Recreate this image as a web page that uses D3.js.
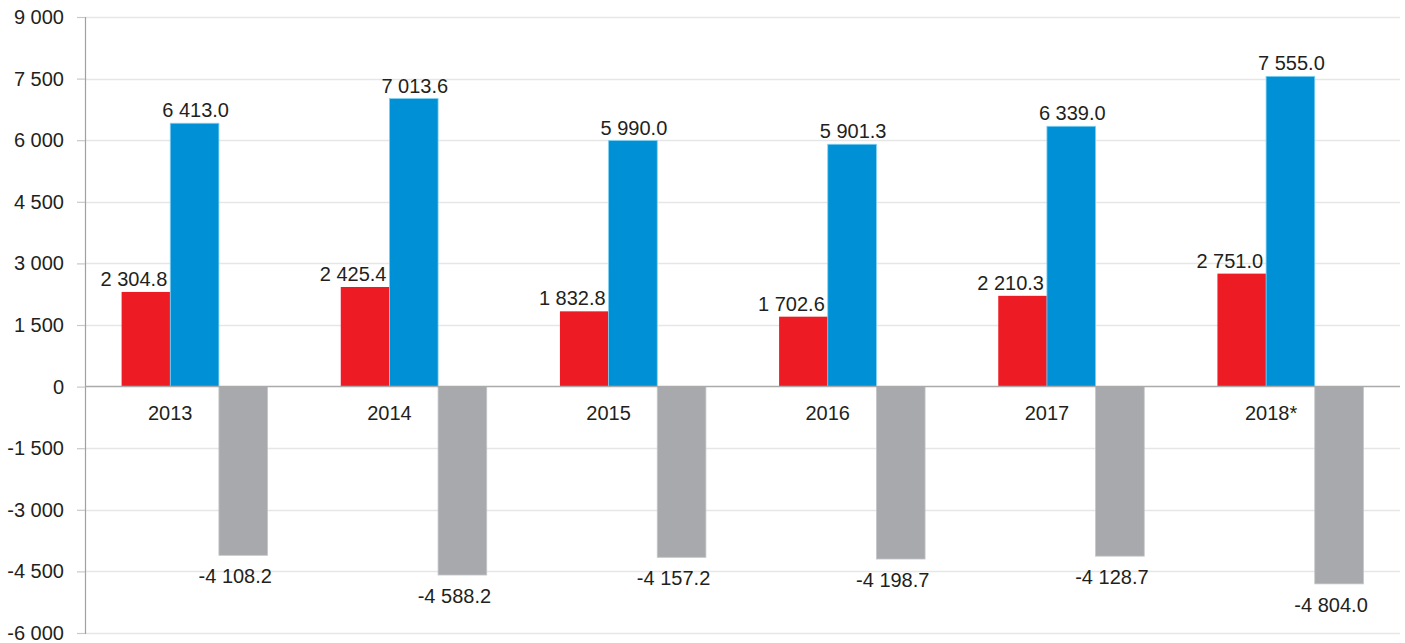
<!DOCTYPE html>
<html lang="en">
<head>
    <meta charset="UTF-8">
    <title>Bar chart 2013-2018</title>
    <script src="https://d3js.org/d3.v7.min.js"></script>
    <style>
        body {
            margin: 0;
            background: #fff;
            font-family: "Liberation Sans", Arial, sans-serif;
        }
        .axis text {
            font-family: "Liberation Sans", Arial, sans-serif;
            font-size: 20px;
            fill: #231f20;
        }
        .value-label, .cat-label {
            font-size: 20px;
            fill: #231f20;
        }
    </style>
</head>
<body>
    <svg width="1405" height="643"></svg>
    <script>
        const years = ["2013", "2014", "2015", "2016", "2017", "2018*"];
        const redValues = [2304.8, 2425.4, 1832.8, 1702.6, 2210.3, 2751.0];
        const blueValues = [6413.0, 7013.6, 5990.0, 5901.3, 6339.0, 7555.0];
        const grayValues = [-4108.2, -4588.2, -4157.2, -4198.7, -4128.7, -4804.0];
        const yTicks = [-6000, -4500, -3000, -1500, 0, 1500, 3000, 4500, 6000, 7500, 9000];

        const series = [
            { key: "red", values: redValues, color: "#ed1c24", stroke: "none", labelShift: -12 },
            { key: "blue", values: blueValues, color: "#0090d5", stroke: "#7fd0f2", labelShift: 1 },
            { key: "gray", values: grayValues, color: "#a7a9ac", stroke: "#c4c5c7", labelShift: -8 }
        ];

        const svg = d3.select("svg");
        const margin = { top: 17, right: 5, bottom: 10, left: 85 };
        const width = 1405, height = 643;

        const locale = d3.formatLocale({ decimal: ".", thousands: " ", grouping: [3], currency: ["", ""], minus: "-" });
        const fmtTick = locale.format(",.0f");
        const fmtVal = locale.format(",.1f");

        const x0 = d3.scaleBand()
            .domain(years)
            .range([margin.left, width - margin.right])
            .paddingInner(0.334)
            .paddingOuter(0.167);

        const x1 = d3.scaleBand()
            .domain(series.map(s => s.key))
            .range([0, x0.bandwidth()]);

        const y = d3.scaleLinear()
            .domain([-6000, 9000])
            .range([height - margin.bottom, margin.top]);

        // grid lines
        svg.append("g")
            .selectAll("line")
            .data(yTicks.filter(t => t !== 0))
            .join("line")
            .attr("x1", margin.left)
            .attr("x2", width - margin.right)
            .attr("y1", d => Math.round(y(d)) + 0.5)
            .attr("y2", d => Math.round(y(d)) + 0.5)
            .attr("stroke", "#e6e6e7")
            .attr("stroke-width", 1.5);

        // y axis
        const yAxis = svg.append("g")
            .attr("class", "axis")
            .attr("transform", `translate(${margin.left},0)`)
            .call(d3.axisLeft(y).tickValues(yTicks).tickFormat(fmtTick).tickSize(8).tickPadding(13));
        yAxis.attr("font-family", null).attr("font-size", null);
        yAxis.select(".domain").attr("stroke", "#a0a0a0").attr("stroke-width", 1.2);
        yAxis.selectAll(".tick line").attr("stroke", "#c8c8c8").attr("stroke-width", 1.2);

        // bars
        const groups = svg.append("g")
            .selectAll("g")
            .data(years)
            .join("g")
            .attr("transform", d => `translate(${x0(d)},0)`);

        series.forEach(s => {
            groups.append("rect")
                .attr("x", x1(s.key))
                .attr("width", x1.bandwidth())
                .attr("y", (d, i) => y(Math.max(0, s.values[i])))
                .attr("height", (d, i) => Math.abs(y(s.values[i]) - y(0)))
                .attr("fill", s.color)
                .attr("stroke", s.stroke)
                .attr("stroke-width", 0.8);

            groups.append("text")
                .attr("class", "value-label")
                .attr("text-anchor", "middle")
                .attr("x", x1(s.key) + x1.bandwidth() / 2 + s.labelShift)
                .attr("y", (d, i) => s.values[i] >= 0 ? y(s.values[i]) - 6 : y(s.values[i]) + 28)
                .text((d, i) => fmtVal(s.values[i]));
        });

        // zero line
        svg.append("line")
            .attr("x1", margin.left)
            .attr("x2", width - margin.right)
            .attr("y1", y(0))
            .attr("y2", y(0))
            .attr("stroke", "#aaaaaa")
            .attr("stroke-width", 1.5);

        // category labels, centred between the red and blue bars
        groups.append("text")
            .attr("class", "cat-label")
            .attr("text-anchor", "middle")
            .attr("x", d => x1("blue") + (d.endsWith("*") ? 5 : 0))
            .attr("y", y(0) + 33)
            .text(d => d);
    </script>
</body>
</html>
